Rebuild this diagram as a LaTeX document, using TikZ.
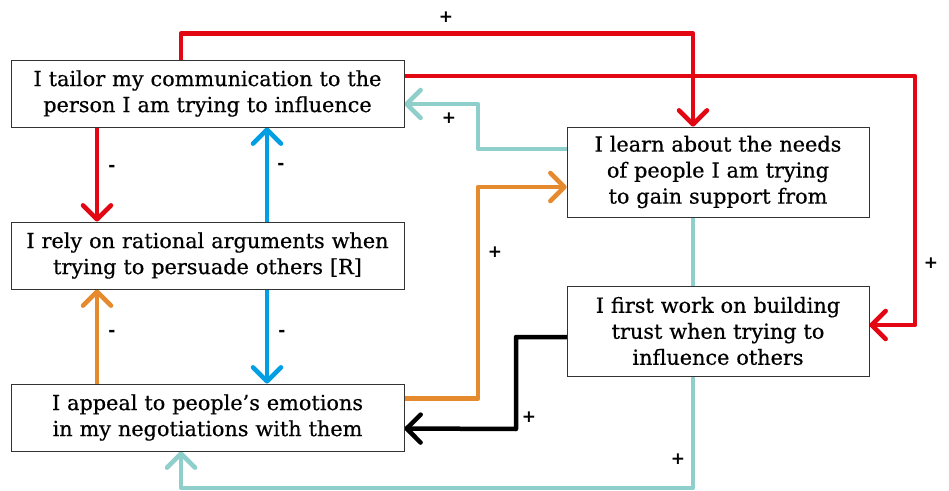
\documentclass[tikz,border=0pt]{standalone}
\usepackage{fontspec}
\setmainfont{DejaVu Serif}[FakeBold=0.5]
\setsansfont{DejaVu Sans}
\usetikzlibrary{arrows.meta,positioning,backgrounds}

\definecolor{linkred}{HTML}{E30613}
\definecolor{linkblue}{HTML}{009FE3}
\definecolor{linkteal}{HTML}{8ECFCC}
\definecolor{linkorange}{HTML}{E68A2E}

\begin{document}
\begin{tikzpicture}[
    x=1pt, y=1pt,
    node distance=162pt,
    claim/.style={rectangle, draw=black!80, line width=0.8pt, fill=white, text width=385pt, align=center, minimum width=393pt, minimum height=67pt, inner sep=0pt, font=\fontsize{20.8}{26}\selectfont},
    need/.style={claim, text width=295pt, minimum width=302pt, minimum height=90pt},
    link/.style={line width=4.5pt, line cap=round, line join=round, -{Straight Barb[length=14pt,width=28pt,round]}},
    sign/.style={font=\sffamily\bfseries\fontsize{17}{17}\selectfont, inner sep=0pt}
]
\useasboundingbox (0,0) rectangle (949,490);

\node[claim] (tailor) at (207.5,396.5) {I tailor my communication to the\\person I am trying to influence};
\node[claim, below of=tailor] (rely) {I rely on rational arguments when\\trying to persuade others [R]};
\node[claim, below of=rely] (appeal) {I appeal to people’s emotions\\in my negotiations with them};
\node[need] (learn) at (718,318) {I learn about the needs\\of people I am trying\\to gain support from};
\node[need, below of=learn, node distance=159pt] (trust) {I first work on building\\trust when trying to\\influence others};

\begin{scope}[on background layer]
% red links from the top box
\draw[link, linkred] ([xshift=-26.5pt]tailor.north) -- ++(0,26) -| ([xshift=-25pt]learn.north);
\draw[link, linkred] ([yshift=17.5pt]tailor.east) -| (915,165) -- ([yshift=6pt]trust.east);
\draw[link, linkred] ([xshift=-110.5pt]tailor.south) -- ([xshift=-110.5pt]rely.north);
% blue links
\draw[link, linkblue] ([xshift=59.5pt]rely.north) -- ([xshift=59.5pt]tailor.south);
\draw[link, linkblue] ([xshift=59.5pt]rely.south) -- ([xshift=59.5pt]appeal.north);
% orange links
\draw[link, linkorange] ([xshift=-110.5pt]appeal.north) -- ([xshift=-110.5pt]rely.south);
\draw[link, linkorange] ([yshift=19pt]appeal.east) -| (478,303) -- ([yshift=-15pt]learn.west);
% teal links
\draw[link, linkteal] ([yshift=23pt]learn.west) -| (478,386) -- ([yshift=-10.5pt]tailor.east);
\draw[link, linkteal] ([xshift=-25pt]learn.south) |- (181,2) -- ([xshift=-26.5pt]appeal.south);
% black link
\draw[link, black] ([yshift=-6pt]trust.west) -| (516,61) -- ([yshift=-11pt]appeal.east);
\end{scope}

\node[sign] (s1) at (446,473) {+};
\node[sign] (s2) at (931,227) {+};
\node[sign] (s3) at (449,372) {+};
\node[sign] (s4) at (112,322) {-};
\node[sign] (s5) at (281,324) {-};
\node[sign] (s6) at (112,157) {-};
\node[sign] (s7) at (282,157) {-};
\node[sign] (s8) at (495,238) {+};
\node[sign] (s9) at (529,73) {+};
\node[sign] (s10) at (678,31) {+};

\end{tikzpicture}
\end{document}
